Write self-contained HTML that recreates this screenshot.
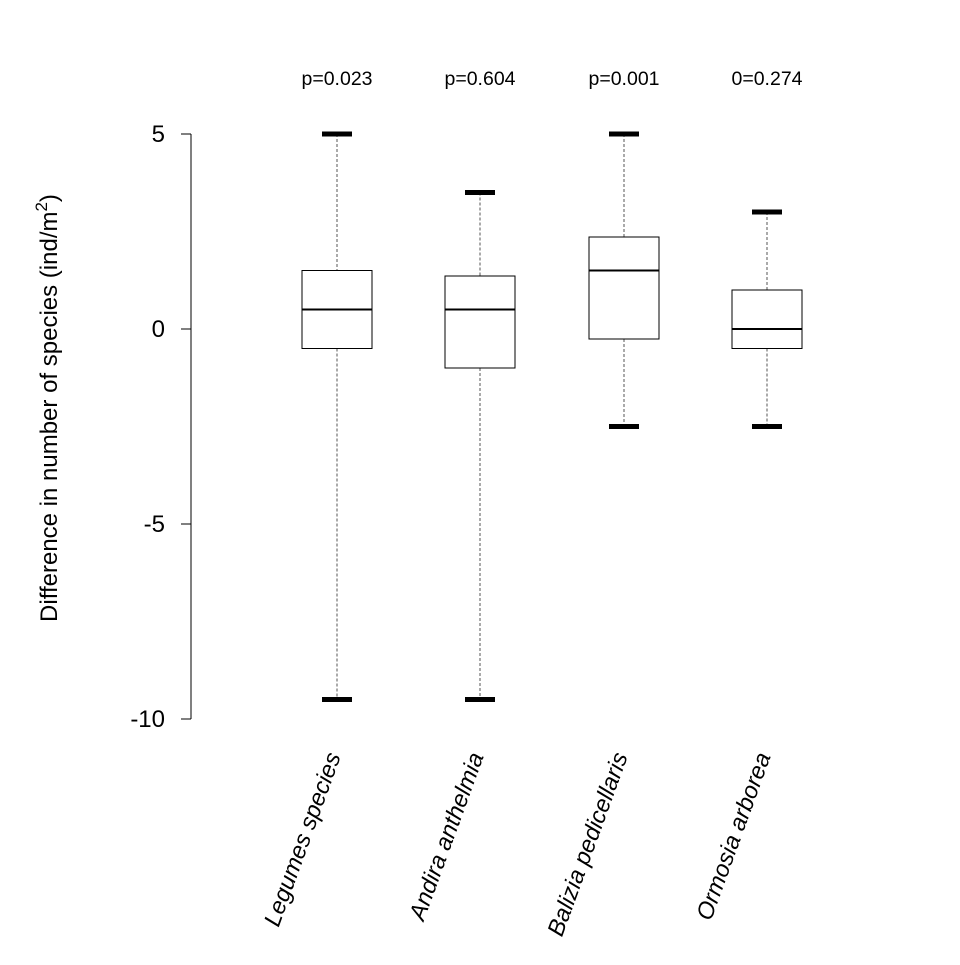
<!DOCTYPE html>
<html><head><meta charset="utf-8"><style>body{margin:0;background:#fff}</style></head><body>
<svg width="960" height="960" xmlns="http://www.w3.org/2000/svg" font-family="Liberation Sans, sans-serif">
<rect width="960" height="960" fill="#fff"/>
<line x1="191" y1="134" x2="191" y2="719" stroke="#000" stroke-width="1"/>
<g stroke="#000" stroke-width="1">
<line x1="181" y1="134" x2="191" y2="134"/><line x1="181" y1="329" x2="191" y2="329"/>
<line x1="181" y1="524" x2="191" y2="524"/><line x1="181" y1="719" x2="191" y2="719"/>
</g>
<g font-size="24" text-anchor="end">
<text x="165" y="142">5</text><text x="165" y="337">0</text>
<text x="165" y="532">-5</text><text x="165" y="727">-10</text>
</g>
<text transform="translate(57,408) rotate(-90)" font-size="24" text-anchor="middle">Difference in number of species (ind/m<tspan dy="-10" font-size="17">2</tspan><tspan dy="10">)</tspan></text>
<g font-size="19.5" text-anchor="middle">
<text x="337" y="85">p=0.023</text><text x="480" y="85">p=0.604</text>
<text x="624" y="85">p=0.001</text><text x="767" y="85">0=0.274</text>
</g>
<g stroke="#000" fill="none">
<line x1="337" y1="134" x2="337" y2="270.5" stroke-dasharray="3,2" stroke="#555"/>
<line x1="337" y1="348.5" x2="337" y2="699.5" stroke-dasharray="3,2" stroke="#555"/>
<line x1="322" y1="134" x2="352" y2="134" stroke-width="5"/>
<line x1="322" y1="699.5" x2="352" y2="699.5" stroke-width="5"/>
<rect x="302" y="270.5" width="70" height="78" fill="#fff"/>
<line x1="302" y1="309.5" x2="372" y2="309.5" stroke-width="2"/>
<line x1="480" y1="192.5" x2="480" y2="276" stroke-dasharray="3,2" stroke="#555"/>
<line x1="480" y1="368" x2="480" y2="699.5" stroke-dasharray="3,2" stroke="#555"/>
<line x1="465" y1="192.5" x2="495" y2="192.5" stroke-width="5"/>
<line x1="465" y1="699.5" x2="495" y2="699.5" stroke-width="5"/>
<rect x="445" y="276" width="70" height="92" fill="#fff"/>
<line x1="445" y1="309.5" x2="515" y2="309.5" stroke-width="2"/>
<line x1="624" y1="134" x2="624" y2="237" stroke-dasharray="3,2" stroke="#555"/>
<line x1="624" y1="339" x2="624" y2="426.5" stroke-dasharray="3,2" stroke="#555"/>
<line x1="609" y1="134" x2="639" y2="134" stroke-width="5"/>
<line x1="609" y1="426.5" x2="639" y2="426.5" stroke-width="5"/>
<rect x="589" y="237" width="70" height="102" fill="#fff"/>
<line x1="589" y1="270.5" x2="659" y2="270.5" stroke-width="2"/>
<line x1="767" y1="212" x2="767" y2="290" stroke-dasharray="3,2" stroke="#555"/>
<line x1="767" y1="348.5" x2="767" y2="426.5" stroke-dasharray="3,2" stroke="#555"/>
<line x1="752" y1="212" x2="782" y2="212" stroke-width="5"/>
<line x1="752" y1="426.5" x2="782" y2="426.5" stroke-width="5"/>
<rect x="732" y="290" width="70" height="58.5" fill="#fff"/>
<line x1="732" y1="329" x2="802" y2="329" stroke-width="2"/>
</g>
<g font-size="23.5" font-style="italic" text-anchor="end">
<text transform="translate(341,756) rotate(-70)">Legumes species</text>
<text transform="translate(484,756) rotate(-70)">Andira anthelmia</text>
<text transform="translate(628,756) rotate(-70)">Balizia pedicellaris</text>
<text transform="translate(771,756) rotate(-70)">Ormosia arborea</text>
</g>
</svg>
</body></html>
